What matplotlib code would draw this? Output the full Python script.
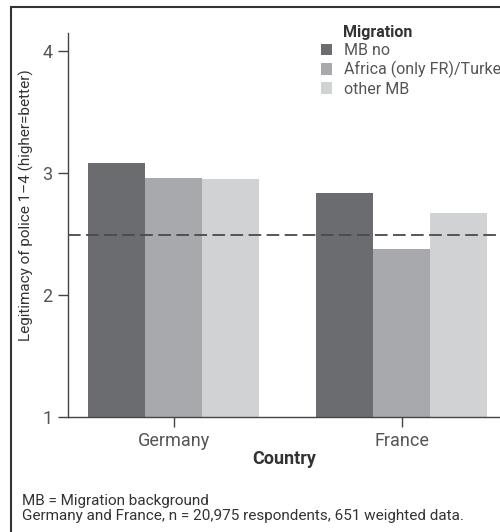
import matplotlib.pyplot as plt
import numpy as np
from matplotlib.patches import Rectangle

plt.rcParams['font.family'] = ['Roboto', 'DejaVu Sans']

countries = ['Germany', 'France']
groups = ['MB no', 'Africa (only FR)/Turkey', 'other MB']
mb_no = [3.08, 2.84]
africa_turkey = [2.96, 2.38]
other_mb = [2.95, 2.67]
reference_value = 2.49
colors = ['#6b6c70', '#a8a9ac', '#d1d2d4']
text_color = '#333333'

fig = plt.figure(figsize=(5, 5.32), dpi=100)
W, H = 500, 532
ax = fig.add_axes([68 / W, 1 - 417 / H, 1 - 68 / W, (417 - 33) / H])

x = np.arange(len(countries))
width = 0.25
for i, (vals, lab) in enumerate(zip([mb_no, africa_turkey, other_mb], groups)):
    ax.bar(x + (i - 1) * width, np.array(vals) - 1, width, bottom=1,
           color=colors[i], label=lab, zorder=2)

ax.axhline(reference_value, color='#4a4a4a', linestyle=(0, (7, 3)), linewidth=1.3, zorder=3)

ax.set_xlim(-0.463, 1.432)
ax.set_ylim(1, 4.148)
ax.set_yticks([1, 2, 3, 4])
ax.set_xticks(x)
ax.set_xticklabels(countries)
ax.spines['top'].set_visible(False)
ax.spines['right'].set_visible(False)
for s in ['left', 'bottom']:
    ax.spines[s].set_color('#444444')
    ax.spines[s].set_linewidth(1.0)
ax.tick_params(axis='both', colors='#444444', labelcolor='#555555', labelsize=13,
               length=7, width=1.0)
ax.tick_params(axis='x', pad=4)
ax.tick_params(axis='y', pad=4)

ax.set_xlabel('Country', fontsize=13, fontweight='bold', color=text_color, labelpad=0)
ax.set_ylabel('Legitimacy of police 1\u20134 (higher=better)', fontsize=11, color=text_color)
ax.yaxis.set_label_coords(-0.079, 0.552)

leg = ax.legend(loc='upper left', bbox_to_anchor=(321 / W, 1 - 43 / H),
                bbox_transform=fig.transFigure, frameon=False, fontsize=11.5,
                handlelength=0.7, handleheight=0.7,
                handletextpad=0.75, labelspacing=0.2, borderpad=0, borderaxespad=0)
for t in leg.get_texts():
    t.set_color('#555555')
fig.text(343 / W, 1 - 32 / H, 'Migration', fontsize=11.5, fontweight='bold',
         color=text_color, va='center')

fig.text(22 / W, 1 - 501 / H, 'MB = Migration background', fontsize=11,
         color=text_color, va='center')
fig.text(22 / W, 1 - 516 / H,
         'Germany and France, n = 20,975 respondents, 651 weighted data.',
         fontsize=11, color=text_color, va='center')

fig.patches.append(Rectangle((11 / W, -0.1), 2, 1 - 7 / H + 0.1,
                             transform=fig.transFigure, fill=False,
                             edgecolor='#333333', linewidth=1.5))

fig.savefig('out.png', dpi=100)
